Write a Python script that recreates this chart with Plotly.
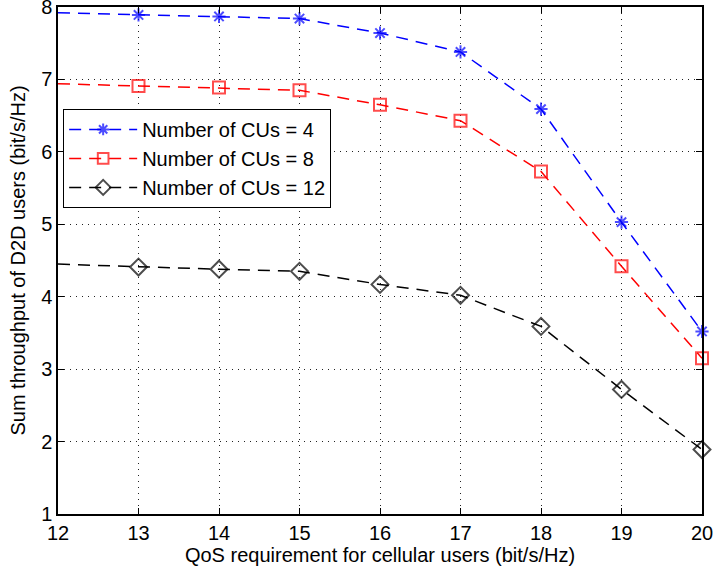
import plotly.graph_objects as go

x_vals = [12, 13, 14, 15, 16, 17, 18, 19, 20]
cu4 = [7.92, 7.89, 7.87, 7.84, 7.64, 7.38, 6.59, 5.03, 3.52]
cu8 = [6.94, 6.91, 6.89, 6.85, 6.65, 6.43, 5.73, 4.42, 3.15]
cu12 = [4.45, 4.41, 4.38, 4.35, 4.17, 4.02, 3.59, 2.72, 1.89]
names = ["Number of CUs = 4", "Number of CUs = 8", "Number of CUs = 12"]
colors = ["#0000ff", "#ff0000", "#000000"]
symbols = ["asterisk-open", "square-open", "diamond-open"]
sizes = [11, 12, 13]

fig = go.Figure()
for ys, name, col, sym, sz in zip([cu4, cu8, cu12], names, colors, symbols, sizes):
    fig.add_trace(go.Scatter(
        x=x_vals, y=ys, name=name, mode="lines+markers",
        line=dict(color=col, width=1.5, dash="12px,8px"),
        marker=dict(symbol=sym, size=[0] + [sz] * (len(x_vals) - 1),
                    color=col, line=dict(color=col, width=2)),
        cliponaxis=False,
    ))

axis_common = dict(
    showline=True, linecolor="black", linewidth=1.5, mirror="ticks",
    ticks="inside", ticklen=6, tickcolor="black", tickwidth=1,
    showgrid=True, gridcolor="#222222", griddash="1px,5px", gridwidth=1,
    zeroline=False, tickfont=dict(size=20, color="black"),
    ticklabeloverflow="allow", automargin=False,
)

fig.update_layout(
    width=715, height=571,
    margin=dict(l=58, r=13, t=7, b=57, autoexpand=False),
    paper_bgcolor="white", plot_bgcolor="white",
    font=dict(family="Liberation Sans, Arial, sans-serif", color="black", size=20),
    xaxis=dict(range=[12, 20], dtick=1,
               title=dict(text="QoS requirement for cellular users (bit/s/Hz)", standoff=2, font=dict(size=20)),
               **axis_common),
    yaxis=dict(range=[1, 8], dtick=1,
               title=dict(text="Sum throughput of D2D users (bit/s/Hz)", standoff=10, font=dict(size=20)),
               **axis_common),
    legend=dict(x=0.008, y=0.799, xanchor="left", yanchor="top",
                bgcolor="white", bordercolor="black", borderwidth=1,
                font=dict(size=20), itemwidth=68, tracegroupgap=0),
    showlegend=True,
)

fig.write_html("out.html", config={"displayModeBar": False},
               post_script="document.body.style.margin='0';document.body.style.padding='0';")
